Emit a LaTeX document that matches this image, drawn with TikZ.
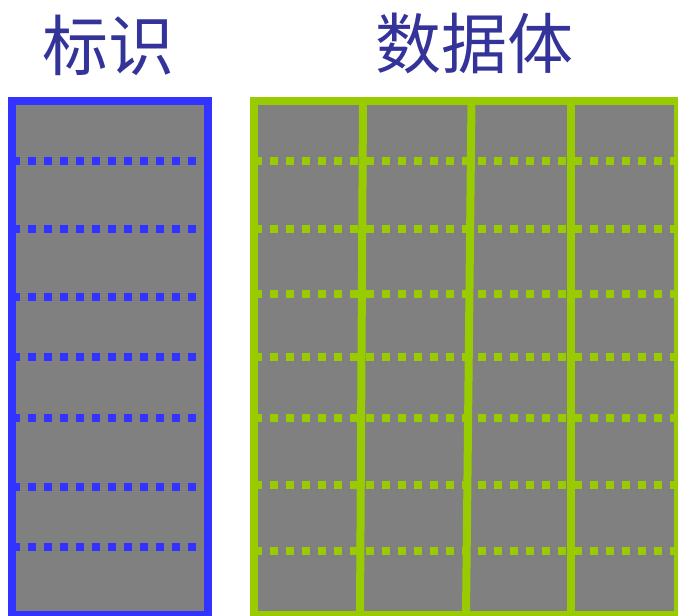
\documentclass[tikz,border=0pt]{standalone}
\usepackage{fontspec}
\newfontfamily\cjk{Noto Sans CJK SC}
\definecolor{cellgray}{HTML}{808080}
\definecolor{idblue}{HTML}{3333FF}
\definecolor{bodygreen}{HTML}{99CC00}
\definecolor{titleblue}{HTML}{333399}
\tikzset{
  titletext/.style={font=\cjk\fontsize{66}{66}\selectfont, text=titleblue, inner sep=0pt},
  bluedots/.style={draw=idblue, line width=8pt, dash pattern=on 8pt off 8pt},
  greendots/.style={draw=bodygreen, line width=8pt, dash pattern=on 8pt off 8pt},
  bluebox/.style={draw=idblue, line width=8pt, fill=cellgray},
  greenbox/.style={draw=bodygreen, line width=8pt, fill=cellgray},
  greenrule/.style={draw=bodygreen, line width=8pt},
}
\begin{document}
\begin{tikzpicture}[x=1pt,y=-1pt]
\useasboundingbox (0,0) rectangle (678,616);
% title texts
\node[titletext] (tid) at (108.5,45) {标识};
\node[titletext] (tbody) at (474.5,43) {数据体};
% identifier box
\begin{scope}
\clip (0,0) rectangle (678,616);
\filldraw[bluebox] (12,101) rectangle (208,615);
\foreach \yy in {161,229,297,357,418,487,547}
  \draw[bluedots] (12,\yy) -- (208,\yy);
\draw[bluebox, fill=none] (12,101) rectangle (208,615);
% data body box
\filldraw[greenbox] (254,101) rectangle (678,615);
\foreach \yy in {161,229,294,357,418,485,551}
  \draw[greendots] (254,\yy) -- (678,\yy);
\coordinate (v1t) at (363,101); \coordinate (v1b) at (360,615);
\coordinate (v2t) at (471.5,101); \coordinate (v2b) at (466,615);
\coordinate (v3t) at (571,101); \coordinate (v3b) at (571,615);
\draw[greenrule] (v1t) -- (v1b);
\draw[greenrule] (v2t) -- (v2b);
\draw[greenrule] (v3t) -- (v3b);
\draw[greenbox, fill=none] (254,101) rectangle (678,615);
\end{scope}
\end{tikzpicture}
\end{document}
